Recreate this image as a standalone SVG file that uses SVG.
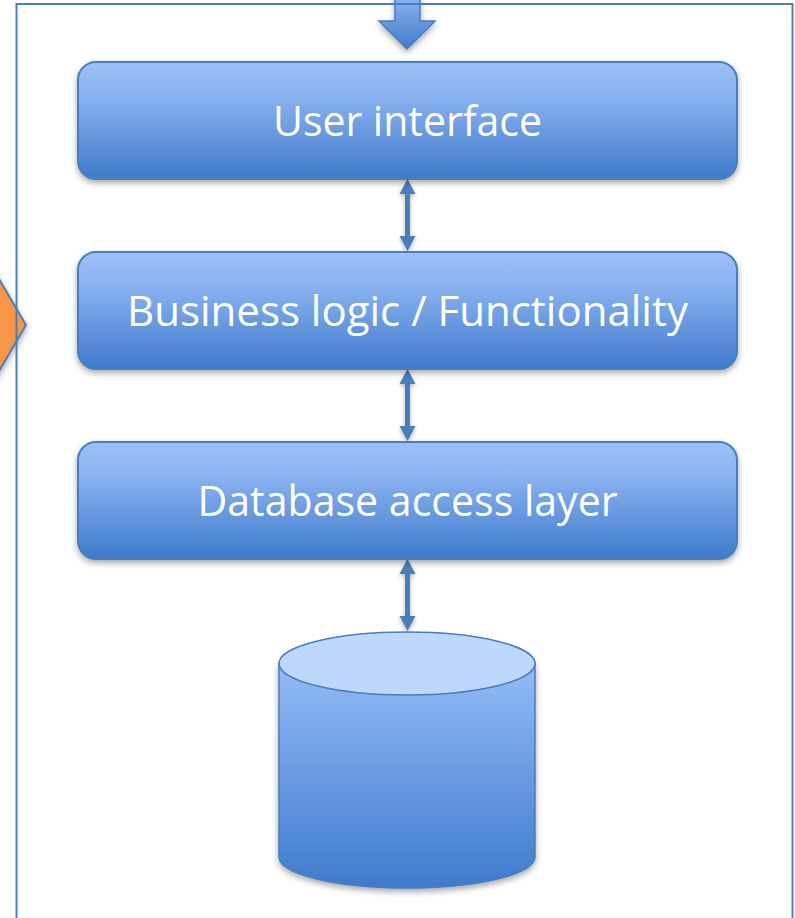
<svg xmlns="http://www.w3.org/2000/svg" width="795" height="918" viewBox="0 0 795 918">
  <style>
    .box { fill: url(#boxGrad); stroke: #4A7EBB; stroke-width: 2; filter: url(#shadow); }
    .lbl { fill: #FFFFFF; font-family: "Open Sans", "Liberation Sans", sans-serif; font-size: 42px; text-anchor: middle; }
    .conn { fill: #4A7EBB; filter: url(#shadowSm); }
  </style>
  <defs>
    <linearGradient id="boxGrad" x1="0" y1="0" x2="0" y2="1">
      <stop offset="0" stop-color="#9BC0FA"/>
      <stop offset="0.25" stop-color="#8EB5F2"/>
      <stop offset="1" stop-color="#3E7BCB"/>
    </linearGradient>
    <linearGradient id="cylGrad" x1="0" y1="0" x2="0" y2="1">
      <stop offset="0" stop-color="#94BBF7"/>
      <stop offset="1" stop-color="#3E7BCB"/>
    </linearGradient>
    <linearGradient id="arrGrad" x1="0" y1="0" x2="0" y2="1">
      <stop offset="0" stop-color="#8DB4EE"/>
      <stop offset="1" stop-color="#3F7CCB"/>
    </linearGradient>
    <filter id="shadow" x="-10%" y="-10%" width="120%" height="140%">
      <feDropShadow dx="0" dy="3" stdDeviation="3" flood-color="#000" flood-opacity="0.35"/>
    </filter>
    <filter id="shadowSm" x="-50%" y="-20%" width="200%" height="140%">
      <feDropShadow dx="0" dy="2" stdDeviation="2" flood-color="#000" flood-opacity="0.3"/>
    </filter>
  </defs>

  <rect width="795" height="918" fill="#FFFFFF"/>

  <g id="side-arrow">
    <polygon points="-60,178 26,325 -60,472" fill="#F79646" stroke="#4A7EBB" stroke-width="2" stroke-linejoin="miter" filter="url(#shadow)"/>
  </g>

  <g id="input-arrow">
    <polygon points="395,-5 420,-5 420,21 435,21 407,49 379,21 395,21" fill="url(#arrGrad)" stroke="#4A7EBB" stroke-width="1.5" filter="url(#shadow)"/>
  </g>

  <g id="frame">
    <rect x="16.5" y="4" width="776" height="930" fill="none" stroke="#4A7EBB" stroke-width="2"/>
  </g>

  <g id="connectors">
    <polygon class="conn" points="407.5,179 415.5,194 410,194 410,236 415.5,236 407.5,251 399.5,236 405,236 405,194 399.5,194"/>
    <polygon class="conn" points="407.5,369 415.5,384 410,384 410,426 415.5,426 407.5,441 399.5,426 405,426 405,384 399.5,384"/>
    <polygon class="conn" points="407.5,559 415.5,574 410,574 410,616 415.5,616 407.5,631 399.5,616 405,616 405,574 399.5,574"/>
  </g>

  <g id="ui">
    <rect class="box" x="78" y="62" width="659" height="117" rx="18" ry="18"/>
    <text class="lbl" x="407.5" y="136" textLength="269" lengthAdjust="spacingAndGlyphs">User interface</text>
  </g>

  <g id="bl">
    <rect class="box" x="78" y="252" width="659" height="117" rx="18" ry="18"/>
    <text class="lbl" x="407.5" y="326" textLength="561" lengthAdjust="spacingAndGlyphs">Business logic / Functionality</text>
  </g>

  <g id="dal">
    <rect class="box" x="78" y="442" width="659" height="117" rx="18" ry="18"/>
    <text class="lbl" x="407.5" y="516" textLength="420" lengthAdjust="spacingAndGlyphs">Database access layer</text>
  </g>

  <g id="db">
    <path d="M279,663 L279,857 A128,31 0 0 0 535,857 L535,663 Z" fill="url(#cylGrad)" stroke="#4A7EBB" stroke-width="1.5" filter="url(#shadow)"/>
    <ellipse cx="407" cy="663.5" rx="128" ry="31.5" fill="#BED8FB" stroke="#4A7EBB" stroke-width="1.5"/>
  </g>
</svg>
